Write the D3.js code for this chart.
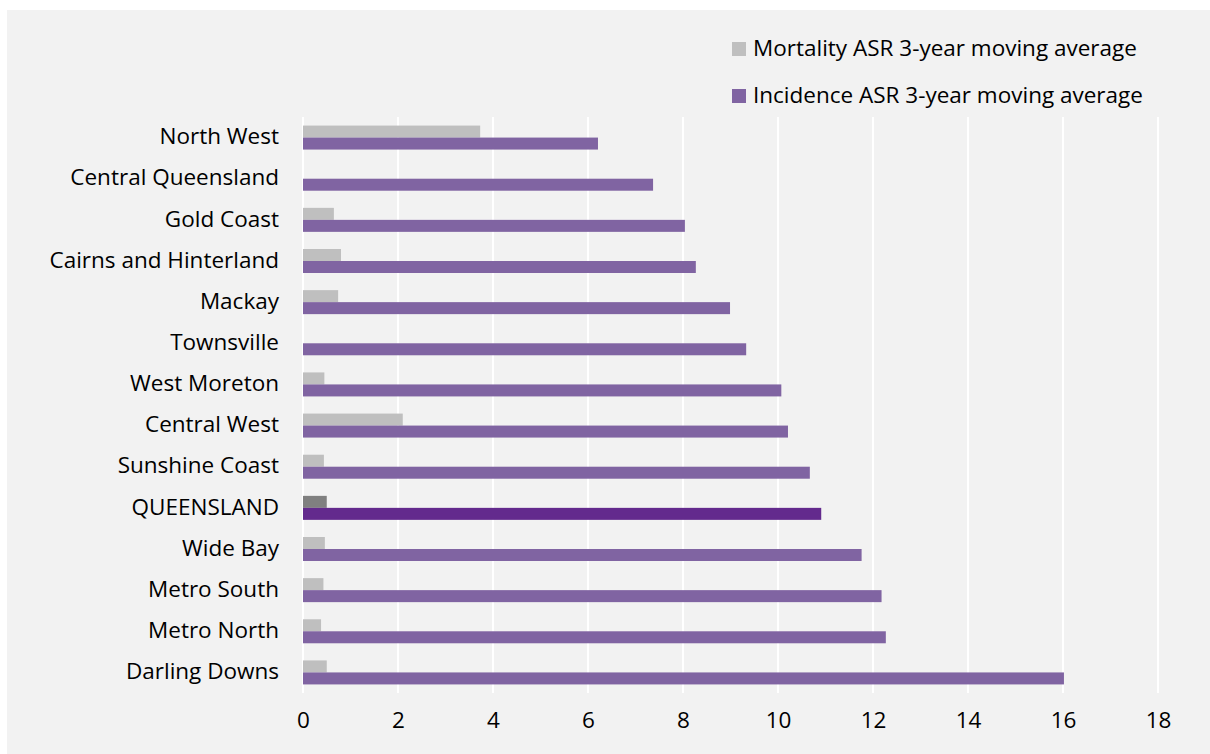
<!DOCTYPE html>
<html>
<head>
<meta charset="utf-8">
<script src="https://cdn.jsdelivr.net/npm/d3@7"></script>
<style>
  html, body { margin: 0; padding: 0; background: #ffffff; }
  svg { display: block; }
  text { font-family: "Open Sans", sans-serif; fill: #000; }
</style>
</head>
<body>
<svg id="chart" width="1210" height="754"></svg>
<script>
const categories = ["North West", "Central Queensland", "Gold Coast", "Cairns and Hinterland", "Mackay",
  "Townsville", "West Moreton", "Central West", "Sunshine Coast", "QUEENSLAND", "Wide Bay",
  "Metro South", "Metro North", "Darling Downs"];
const mortality = [3.73, 0, 0.65, 0.80, 0.74, 0, 0.45, 2.10, 0.44, 0.50, 0.46, 0.43, 0.38, 0.50];
const incidence = [6.21, 7.37, 8.04, 8.27, 8.99, 9.33, 10.07, 10.21, 10.67, 10.91, 11.76, 12.18, 12.27, 16.02];
const seriesNames = ["Mortality ASR 3-year moving average", "Incidence ASR 3-year moving average"];
const xTicks = [0, 2, 4, 6, 8, 10, 12, 14, 16, 18];
const highlight = "QUEENSLAND";

const colors = { mort: "#bfbfbf", inc: "#8064a2", mortHi: "#808080", incHi: "#632a8d" };
const fontSize = 22.5;
const fontFamily = "'Open Sans', sans-serif";

const svg = d3.select("#chart");
svg.append("rect").attr("x", 7).attr("y", 10).attr("width", 1203).attr("height", 744).attr("fill", "#f2f2f2");

const x = d3.scaleLinear().domain([0, 18]).range([303, 1158]);
const y = d3.scaleBand().domain(categories).range([117, 693]).paddingInner(0.417).paddingOuter(0.2085);
const sub = d3.scaleBand().domain(["mort", "inc"]).range([0, y.bandwidth()]);

// gridlines
svg.append("g").selectAll("line").data(xTicks).join("line")
  .attr("x1", d => x(d)).attr("x2", d => x(d))
  .attr("y1", 117).attr("y2", 693)
  .attr("stroke", "#ffffff").attr("stroke-width", 2);

// x axis labels
const xAxis = d3.axisBottom(x).tickValues(xTicks).tickSize(0).tickPadding(0).tickFormat(d3.format("d"));
const gx = svg.append("g").attr("transform", "translate(0,712)").call(xAxis);
gx.select(".domain").remove();
gx.selectAll("text").attr("font-size", fontSize).attr("dy", "0.71em")
  .style("font-family", fontFamily).attr("fill", "#000");

// y axis labels
const yAxis = d3.axisLeft(y).tickSize(0).tickPadding(0);
const gy = svg.append("g").attr("transform", "translate(279,0)").call(yAxis);
gy.select(".domain").remove();
gy.selectAll("text").attr("font-size", fontSize).attr("dy", "0.3em")
  .style("font-family", fontFamily).attr("fill", "#000");

const data = categories.map((c, i) => ({ c, mort: mortality[i], inc: incidence[i] }));

svg.append("g").selectAll("rect").data(data.filter(d => d.mort > 0)).join("rect")
  .attr("x", x(0)).attr("y", d => y(d.c) + sub("mort"))
  .attr("width", d => x(d.mort) - x(0)).attr("height", sub.bandwidth())
  .attr("fill", d => d.c === highlight ? colors.mortHi : colors.mort);

svg.append("g").selectAll("rect").data(data).join("rect")
  .attr("x", x(0)).attr("y", d => y(d.c) + sub("inc"))
  .attr("width", d => x(d.inc) - x(0)).attr("height", sub.bandwidth())
  .attr("fill", d => d.c === highlight ? colors.incHi : colors.inc);

// legend
const legend = svg.append("g").attr("transform", "translate(732,42)");
const lg = legend.selectAll("g").data(seriesNames).join("g")
  .attr("transform", (d, i) => `translate(0,${i * 47})`);
lg.append("rect").attr("width", 14).attr("height", 14)
  .attr("fill", (d, i) => i === 0 ? colors.mort : colors.inc);
lg.append("text").attr("x", 21).attr("y", 7).attr("dy", "0.32em")
  .attr("font-size", fontSize).style("font-family", fontFamily).text(d => d);
</script>
</body>
</html>
